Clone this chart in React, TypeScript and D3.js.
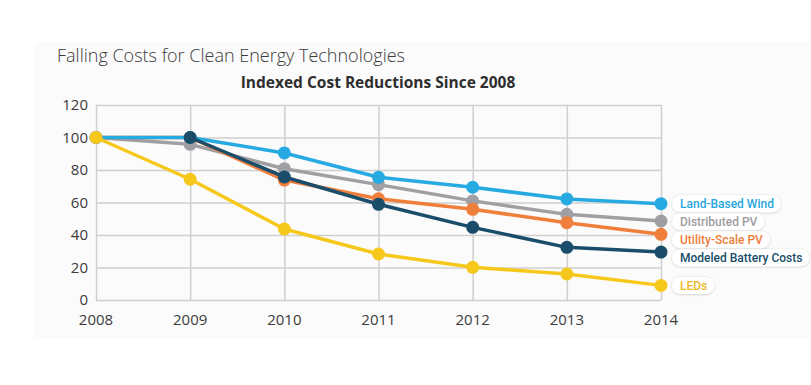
import React, { useEffect, useRef } from 'react'
import * as d3 from 'd3'

// data
const years = [2008, 2009, 2010, 2011, 2012, 2013, 2014]
const yTicks = [0, 20, 40, 60, 80, 100, 120]

const distributedPV = [100, 95.8, 80.8, 71, 61, 52.7, 48.6]
const utilityPV = [100, 100, 73.8, 62.3, 55.8, 47.6, 40.4]
const landWind = [100, 100, 90.5, 75.5, 69.4, 62.2, 59.3]
const battery = [null, 100, 75.7, 58.9, 44.7, 32.4, 29.5]
const leds = [100, 74.3, 43.7, 28.3, 20.1, 16, 9]

const seriesNames = ['Distributed PV', 'Utility-Scale PV', 'Land-Based Wind', 'Modeled Battery Costs', 'LEDs']
const seriesValues = [distributedPV, utilityPV, landWind, battery, leds]
const seriesColors = ['#a0a0a4', '#f07f3c', '#27aae1', '#1a4d6a', '#f7c81c']
const labelColors = ['#9c9ca0', '#ee7e3a', '#27a6dc', '#1a4d6a', '#e9b91e']

const W = 811
const H = 385
const font = '"Open Sans", "DejaVu Sans", sans-serif'
const labelFont = 'Roboto, "Open Sans", sans-serif'

const App = () => {
  const ref = useRef<SVGSVGElement>(null)

  useEffect(() => {
    const svg = d3.select(ref.current)
    svg.selectAll('*').remove()

    // faint panel behind everything
    svg.append('rect')
      .attr('x', 35).attr('y', 42).attr('width', W - 35).attr('height', 296)
      .attr('fill', '#fbfbfb')

    svg.append('text')
      .attr('x', 57).attr('y', 62)
      .attr('font-family', font).attr('font-size', 18).attr('font-weight', 300)
      .attr('fill', '#3a3a3a')
      .text('Falling Costs for Clean Energy Technologies')

    svg.append('text')
      .attr('x', 378).attr('y', 88).attr('text-anchor', 'middle')
      .attr('font-family', font).attr('font-size', 15.5).attr('font-weight', 700)
      .attr('fill', '#2e2e2e')
      .text('Indexed Cost Reductions Since 2008')

    const x = d3.scalePoint<number>().domain(years).range([96, 661])
    const y = d3.scaleLinear().domain([0, 120]).range([300, 105])

    const chart = svg.append('g')

    // gridlines
    chart.append('g')
      .attr('transform', 'translate(96,0)')
      .call(d3.axisLeft(y).tickValues(yTicks).tickSize(-(661 - 96)).tickFormat(() => ''))
      .call(g => g.select('.domain').remove())
      .call(g => g.selectAll('line').attr('stroke', '#cfcfcf').attr('stroke-width', 1.5))

    chart.append('g')
      .attr('transform', 'translate(0,300)')
      .call(d3.axisBottom(x).tickSize(-(300 - 105)).tickFormat(() => ''))
      .call(g => g.select('.domain').remove())
      .call(g => g.selectAll('line').attr('stroke', '#cfcfcf').attr('stroke-width', 1.5))

    // tick labels
    chart.append('g')
      .selectAll('text')
      .data(yTicks)
      .join('text')
      .attr('x', 88).attr('y', d => y(d)).attr('dy', '0.36em')
      .attr('text-anchor', 'end')
      .attr('font-family', font).attr('font-size', 15).attr('fill', '#3c3c3c')
      .text(d => d)

    chart.append('g')
      .selectAll('text')
      .data(years)
      .join('text')
      .attr('x', d => x(d)!).attr('y', 325)
      .attr('text-anchor', 'middle')
      .attr('font-family', font).attr('font-size', 15).attr('fill', '#3c3c3c')
      .text(d => d)

    // lines + points
    const line = d3.line<number | null>()
      .defined(d => d != null)
      .x((_, i) => x(years[i])!)
      .y(d => y(d as number))

    seriesValues.forEach((vals, si) => {
      const g = chart.append('g')
      g.append('path')
        .attr('d', line(vals))
        .attr('fill', 'none')
        .attr('stroke', seriesColors[si])
        .attr('stroke-width', 3.5)
        .attr('stroke-linejoin', 'round')
      g.selectAll('circle')
        .data(vals.map((v, i) => ({ v, i })).filter(d => d.v != null))
        .join('circle')
        .attr('cx', d => x(years[d.i])!)
        .attr('cy', d => y(d.v as number))
        .attr('r', 6.5)
        .attr('fill', seriesColors[si])
    })

    // end labels, pushed apart so they don't overlap
    const labels = seriesNames.map((name, i) => ({
      name, i, y: y(seriesValues[i][seriesValues[i].length - 1] as number)
    })).sort((a, b) => a.y - b.y)
    for (let k = 1; k < labels.length; k++) {
      if (labels[k].y - labels[k - 1].y < 18) labels[k].y = labels[k - 1].y + 18
    }

    const defs = svg.append('defs')
    const f = defs.append('filter').attr('id', 'sh').attr('x', '-20%').attr('y', '-40%').attr('width', '140%').attr('height', '180%')
    f.append('feDropShadow').attr('dx', 0).attr('dy', 0.5).attr('stdDeviation', 1.2).attr('flood-color', '#000').attr('flood-opacity', 0.22)

    const lg = svg.append('g')
    labels.forEach(l => {
      const g = lg.append('g')
      const rect = g.append('rect')
      const t = g.append('text')
        .attr('x', 680).attr('y', l.y).attr('dy', '0.36em')
        .attr('font-family', labelFont).attr('font-size', 12).attr('font-weight', 500)
        .attr('fill', labelColors[l.i])
        .text(l.name)
      const w = (t.node() as SVGTextElement).getComputedTextLength()
      rect.attr('x', 672).attr('y', l.y - 8.5).attr('width', w + 15).attr('height', 17)
        .attr('rx', 8.5).attr('fill', '#fff').attr('filter', 'url(#sh)')
    })
  }, [])

  return (
    <svg ref={ref} width={W} height={H} style={{ position: 'absolute', left: 0, top: 0, background: '#fff' }} />
  )
}

export default App
